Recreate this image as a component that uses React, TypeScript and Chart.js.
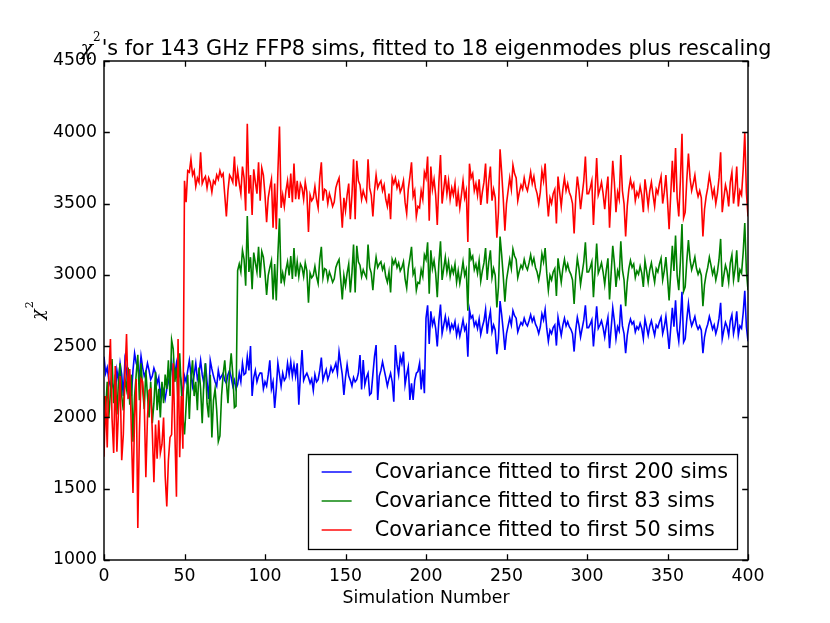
import React, { useEffect, useRef } from "react";
import { Chart, registerables } from "chart.js";

Chart.register(...registerables);

const titleMain = "'s for 143 GHz FFP8 sims, fitted to 18 eigenmodes plus rescaling";
const xAxisLabel = "Simulation Number";
const seriesLabels = [
  "Covariance fitted to first 200 sims",
  "Covariance fitted to first 83 sims",
  "Covariance fitted to first 50 sims",
];
const seriesColors = ["#0000ff", "#008000", "#ff0000"];
const xTicks = [0, 50, 100, 150, 200, 250, 300, 350, 400];
const yTicks = [1000, 1500, 2000, 2500, 3000, 3500, 4000, 4500];

const blueValues = [
  2426, 2310, 2350, 2260, 2220, 2240, 2200, 2150, 2330, 2260,
  2380, 2300, 2150, 2400, 2330, 2170, 2250, 2150, 2330, 2450,
  2380, 2350, 2290, 2430, 2350, 2290, 2320, 2380, 2330, 2265,
  2290, 2345, 2310, 2240, 2280, 2150, 2220, 2190, 2130, 2200,
  2250, 2310, 2390, 2240, 2300, 2380, 2280, 2310, 2250, 2150,
  2290, 2250, 2330, 2400, 2300, 2220, 2300, 2380, 2270, 2310,
  2400, 2300, 2240, 2380, 2250, 2130, 2400, 2340, 2290, 2250,
  2220, 2330, 2270, 2290, 2310, 2260, 2240, 2300, 2330, 2280,
  2220, 2260, 2200, 2230, 2310, 2250, 2380, 2300, 2310, 2426,
  2330, 2500, 2150, 2280, 2330, 2250, 2290, 2312, 2310, 2200,
  2250, 2220, 2300, 2400, 2200, 2250, 2066, 2200, 2380, 2300,
  2220, 2310, 2260, 2280, 2380, 2300, 2390, 2290, 2370, 2290,
  2380, 2090, 2300, 2473, 2260, 2290, 2310, 2280, 2240, 2270,
  2190, 2300, 2250, 2265, 2330, 2420, 2260, 2300, 2335, 2265,
  2300, 2355, 2320, 2345, 2380, 2310, 2461, 2380, 2300, 2158,
  2280, 2370, 2290, 2260, 2220, 2280, 2250, 2265, 2310, 2438,
  2196, 2403, 2230, 2280, 2310, 2158, 2170, 2300, 2426, 2508,
  2123, 2290, 2330, 2390, 2335, 2280, 2220, 2270, 2310, 2250,
  2111, 2508, 2370, 2300, 2426, 2380, 2461, 2230, 2300, 2355,
  2123, 2240, 2123, 2260, 2310, 2322, 2380, 2196, 2335, 2170,
  2696, 2786, 2516, 2744, 2648, 2690, 2624, 2498, 2678, 2792,
  2588, 2648, 2708, 2630, 2684, 2606, 2654, 2624, 2672, 2576,
  2636, 2570, 2624, 2684, 2612, 2642, 2426, 2756, 2696, 2714,
  2642, 2672, 2624, 2690, 2582, 2636, 2678, 2756, 2588, 2684,
  2744, 2600, 2648, 2612, 2444, 2552, 2816, 2720, 2606, 2474,
  2588, 2642, 2696, 2648, 2750, 2714, 2696, 2600, 2636, 2666,
  2648, 2696, 2660, 2642, 2678, 2720, 2672, 2702, 2654, 2630,
  2588, 2636, 2726, 2684, 2756, 2624, 2534, 2612, 2588, 2630,
  2648, 2504, 2702, 2636, 2576, 2648, 2696, 2642, 2672, 2636,
  2618, 2588, 2462, 2612, 2702, 2648, 2564, 2624, 2684, 2786,
  2630, 2630, 2654, 2684, 2498, 2636, 2780, 2624, 2648, 2678,
  2630, 2564, 2642, 2702, 2486, 2624, 2768, 2678, 2552, 2636,
  2606, 2792, 2642, 2588, 2450, 2576, 2648, 2690, 2654, 2672,
  2600, 2636, 2618, 2660, 2624, 2552, 2690, 2636, 2576, 2642,
  2678, 2624, 2576, 2648, 2630, 2672, 2702, 2588, 2636, 2708,
  2600, 2480, 2624, 2768, 2636, 2822, 2612, 2534, 2684, 2882,
  2528, 2552, 2690, 2798, 2696, 2642, 2672, 2708, 2648, 2618,
  2642, 2612, 2450, 2564, 2618, 2654, 2708, 2666, 2618, 2648,
  2588, 2630, 2696, 2804, 2552, 2612, 2666, 2636, 2576, 2678,
  2720, 2588, 2648, 2744, 2576, 2642, 2624, 2732, 2888, 2636,
  2534,
];

const greenValues = [
  2150, 2050, 2250, 2000, 2180, 2410, 2100, 2300, 2020, 2250,
  2380, 2150, 2050, 2270, 2200, 2350, 2090, 2300, 1830, 2150,
  2300, 2440, 2120, 2380, 2200, 2060, 2330, 2150, 2000, 2250,
  1960, 2100, 2320, 2050, 2200, 2000, 2250, 2100, 2300, 2200,
  2400, 2150, 2543, 2480, 2250, 2350, 2100, 2450, 2200, 2000,
  1880, 2080, 2300, 1990, 2280, 2400, 2150, 2250, 2050, 2350,
  2200, 1960, 2250, 2380, 2100, 2000, 2300, 1860, 2120, 2200,
  2050, 1830, 1870, 2150, 2300, 2400, 2250, 2100, 2320, 2450,
  2300, 2070, 2080, 3030, 3076, 3020, 3172, 3108, 2924, 3412,
  3020, 3124, 2900, 3156, 3084, 3020, 3196, 2980, 3164, 3124,
  3012, 2860, 2996, 3052, 3100, 2828, 3076, 2820, 3140, 3396,
  2940, 3012, 2948, 3036, 3092, 2996, 3132, 2972, 3188, 2988,
  3092, 2988, 3076, 3052, 2988, 3084, 3028, 2804, 3012, 2980,
  2996, 3060, 2988, 2940, 3108, 3196, 2980, 3044, 3036, 2964,
  3020, 2988, 2948, 2972, 3052, 3084, 3108, 2972, 2828, 2996,
  2924, 3012, 3076, 2876, 3012, 3212, 2876, 3204, 3092, 3068,
  2988, 3036, 3004, 2980, 3212, 3052, 3012, 2892, 3036, 3124,
  3052, 3076, 3092, 3036, 3068, 2988, 2948, 3020, 2876, 3108,
  3076, 3108, 3052, 3084, 3028, 3052, 3092, 2972, 2908, 3044,
  3116, 3196, 3004, 3036, 2892, 2948, 2940, 3036, 2988, 3140,
  3108, 3228, 2868, 3172, 3044, 3100, 3012, 2844, 3084, 3236,
  2964, 3044, 3124, 3020, 3092, 2988, 3052, 3012, 3076, 2948,
  3028, 2940, 3012, 3092, 2996, 3036, 2748, 3188, 3108, 3132,
  3036, 3076, 3012, 3100, 2956, 3028, 3084, 3188, 2964, 3092,
  3172, 2980, 3044, 2996, 2772, 2916, 3268, 3140, 2988, 2812,
  2964, 3036, 3108, 3044, 3180, 3132, 3108, 2980, 3028, 3068,
  3044, 3108, 3060, 3036, 3084, 3140, 3076, 3116, 3052, 3020,
  2964, 3028, 3148, 3092, 3188, 3012, 2892, 2996, 2964, 3020,
  3044, 2852, 3116, 3028, 2948, 3044, 3108, 3036, 3076, 3028,
  3004, 2964, 2796, 2996, 3116, 3044, 2932, 3012, 3092, 3228,
  3020, 3020, 3052, 3092, 2844, 3028, 3220, 3012, 3044, 3084,
  3020, 2932, 3036, 3116, 2828, 3012, 3204, 3084, 2916, 3028,
  2988, 3236, 3036, 2964, 2780, 2948, 3044, 3100, 3052, 3076,
  2980, 3028, 3004, 3060, 3012, 2916, 3100, 3028, 2948, 3036,
  3084, 3012, 2948, 3044, 3020, 3076, 3116, 2964, 3028, 3124,
  2980, 2820, 3012, 3204, 3028, 3276, 2996, 2892, 3092, 3356,
  2884, 2916, 3100, 3244, 3108, 3036, 3076, 3124, 3044, 3004,
  3036, 2996, 2780, 2932, 3004, 3052, 3124, 3068, 3004, 3044,
  2964, 3020, 3108, 3252, 2916, 2996, 3068, 3028, 2948, 3084,
  3140, 2964, 3044, 3172, 2948, 3036, 3012, 3156, 3364, 3028,
  2892,
];

const redValues = [
  1725, 2150, 1790, 2300, 2550, 1990, 1750, 2360, 1760, 2050,
  2290, 1700, 1880, 2290, 2585, 2130, 2340, 1900, 1470, 2000,
  2270, 1225, 1900, 2270, 2250, 2100, 1580, 2000, 2190, 2200,
  1900, 1545, 1950, 1710, 1980, 1750, 1810, 2000, 1590, 1375,
  1700, 1860, 1880, 2380, 1900, 1444, 2550, 1720, 2150, 1780,
  3660, 3510, 3730, 3720, 3810, 3700, 3730, 3620, 3680, 3650,
  3860, 3640, 3670, 3690, 3610, 3680, 3650, 3580, 3660, 3640,
  3700, 3670, 3730, 3690, 3710, 3560, 3410, 3590, 3700, 3680,
  3650, 3830, 3620, 3730, 3640, 3570, 3760, 3680, 3450, 4060,
  3570, 3700, 3420, 3740, 3650, 3570, 3790, 3520, 3750, 3700,
  3560, 3370, 3540, 3610, 3670, 3330, 3640, 3320, 3720, 4040,
  3470, 3560, 3480, 3590, 3660, 3540, 3710, 3510, 3780, 3530,
  3660, 3530, 3640, 3610, 3530, 3650, 3580, 3300, 3560, 3520,
  3540, 3620, 3530, 3470, 3680, 3790, 3520, 3600, 3590, 3500,
  3570, 3530, 3480, 3510, 3610, 3650, 3680, 3510, 3330, 3540,
  3450, 3560, 3640, 3390, 3560, 3810, 3390, 3800, 3660, 3630,
  3530, 3590, 3550, 3520, 3810, 3610, 3560, 3410, 3590, 3700,
  3610, 3640, 3660, 3590, 3630, 3530, 3480, 3570, 3390, 3680,
  3640, 3680, 3610, 3650, 3580, 3610, 3660, 3510, 3430, 3600,
  3690, 3790, 3550, 3590, 3410, 3480, 3470, 3590, 3530, 3720,
  3680, 3830, 3380, 3760, 3600, 3670, 3560, 3350, 3650, 3840,
  3500, 3600, 3700, 3570, 3660, 3530, 3610, 3560, 3640, 3480,
  3580, 3470, 3560, 3660, 3540, 3590, 3230, 3780, 3680, 3710,
  3590, 3640, 3560, 3670, 3490, 3580, 3650, 3780, 3500, 3660,
  3760, 3520, 3600, 3540, 3260, 3440, 3880, 3720, 3530, 3310,
  3500, 3590, 3680, 3600, 3770, 3710, 3680, 3520, 3580, 3630,
  3600, 3680, 3620, 3590, 3650, 3720, 3640, 3690, 3610, 3570,
  3500, 3580, 3730, 3660, 3780, 3560, 3410, 3540, 3500, 3570,
  3600, 3360, 3690, 3580, 3480, 3600, 3680, 3590, 3640, 3580,
  3550, 3500, 3290, 3540, 3690, 3600, 3460, 3560, 3660, 3830,
  3570, 3570, 3610, 3660, 3350, 3580, 3820, 3560, 3600, 3650,
  3570, 3460, 3590, 3690, 3330, 3560, 3800, 3650, 3440, 3580,
  3530, 3840, 3590, 3500, 3270, 3480, 3600, 3670, 3610, 3640,
  3520, 3580, 3550, 3620, 3560, 3440, 3670, 3580, 3480, 3590,
  3650, 3560, 3480, 3600, 3570, 3640, 3690, 3500, 3580, 3700,
  3520, 3320, 3560, 3800, 3580, 3890, 3540, 3410, 3660, 3990,
  3400, 3440, 3670, 3850, 3680, 3590, 3640, 3700, 3600, 3550,
  3590, 3540, 3270, 3460, 3550, 3610, 3700, 3630, 3550, 3600,
  3500, 3570, 3680, 3860, 3440, 3540, 3630, 3580, 3480, 3650,
  3720, 3500, 3600, 3760, 3480, 3590, 3560, 3740, 4000, 3580,
  3410,
];

const seriesValues = [blueValues, greenValues, redValues];

const SANS = '"DejaVu Sans", sans-serif';
const SERIF = '"DejaVu Serif", serif';
const SMALL = 17.3;
const LARGE = 20.75;
const LW = 1.6;

const decorPlugin = {
  id: "decor",
  afterDatasetsDraw(chart: any) {
    const ctx: CanvasRenderingContext2D = chart.ctx;
    const { left, right, top, bottom } = chart.chartArea;
    const xs = chart.scales.x;
    const ys = chart.scales.y;
    ctx.save();
    ctx.strokeStyle = "#000";
    ctx.lineWidth = 1.3;
    const tl = 5.8;
    ctx.beginPath();
    for (const v of xTicks) {
      const p = Math.round(xs.getPixelForValue(v)) + 0.5;
      ctx.moveTo(p, bottom);
      ctx.lineTo(p, bottom - tl);
      ctx.moveTo(p, top);
      ctx.lineTo(p, top + tl);
    }
    for (const v of yTicks) {
      const p = Math.round(ys.getPixelForValue(v)) + 0.5;
      ctx.moveTo(left, p);
      ctx.lineTo(left + tl, p);
      ctx.moveTo(right, p);
      ctx.lineTo(right - tl, p);
    }
    ctx.stroke();
    ctx.lineWidth = 1.44;
    ctx.strokeRect(left, top, right - left, bottom - top);
    ctx.restore();
  },
  afterDraw(chart: any) {
    const ctx: CanvasRenderingContext2D = chart.ctx;
    const { left, right, top, bottom } = chart.chartArea;
    const cx = (left + right) / 2;
    ctx.save();
    ctx.fillStyle = "#000";
    ctx.textBaseline = "alphabetic";
    ctx.textAlign = "left";

    // Title with chi^2
    const supSize = 12;
    ctx.font = `italic ${LARGE}px ${SERIF}`;
    const wChi = ctx.measureText("χ").width;
    ctx.font = `${supSize}px ${SERIF}`;
    const wTwo = ctx.measureText("2").width;
    ctx.font = `${LARGE}px ${SANS}`;
    const wRest = ctx.measureText(titleMain).width;
    const total = wChi + wTwo + 1 + wRest;
    const x0 = cx - total / 2;
    const base = 55;
    ctx.font = `italic ${LARGE}px ${SERIF}`;
    ctx.fillText("χ", x0, base);
    ctx.font = `${supSize}px ${SERIF}`;
    ctx.fillText("2", x0 + wChi, base - 14);
    ctx.font = `${LARGE}px ${SANS}`;
    ctx.fillText(titleMain, x0 + wChi + wTwo + 1, base);

    // x label
    ctx.font = `${SMALL}px ${SANS}`;
    ctx.textAlign = "center";
    ctx.fillText(xAxisLabel, cx, 603);

    // y label chi^2 rotated
    ctx.save();
    ctx.translate(43, (top + bottom) / 2);
    ctx.rotate(-Math.PI / 2);
    ctx.textAlign = "left";
    ctx.font = `italic ${SMALL}px ${SERIF}`;
    const wc = ctx.measureText("χ").width;
    ctx.font = `11px ${SERIF}`;
    const w2 = ctx.measureText("2").width;
    const tw = wc + w2 + 1;
    ctx.font = `italic ${SMALL}px ${SERIF}`;
    ctx.fillText("χ", -tw / 2, 0);
    ctx.font = `11px ${SERIF}`;
    ctx.fillText("2", -tw / 2 + wc + 1, -10);
    ctx.restore();

    // Legend
    ctx.font = `${LARGE}px ${SANS}`;
    let maxW = 0;
    for (const s of seriesLabels) maxW = Math.max(maxW, ctx.measureText(s).width);
    const boxRight = right - 11;
    const boxBottom = bottom - 11;
    const boxW = 14 + 30 + 23 + maxW + 9;
    const boxH = 95;
    const boxLeft = boxRight - boxW;
    const boxTop = boxBottom - boxH;
    ctx.fillStyle = "#fff";
    ctx.fillRect(boxLeft, boxTop, boxW, boxH);
    ctx.strokeStyle = "#000";
    ctx.lineWidth = 1.3;
    ctx.strokeRect(Math.round(boxLeft) + 0.5, Math.round(boxTop) + 0.5, Math.round(boxW), Math.round(boxH));
    ctx.textAlign = "left";
    ctx.textBaseline = "middle";
    seriesLabels.forEach((s, i) => {
      const y = boxTop + 18 + i * 29;
      ctx.strokeStyle = seriesColors[i];
      ctx.lineWidth = 1.44;
      ctx.beginPath();
      ctx.moveTo(boxLeft + 14, y);
      ctx.lineTo(boxLeft + 44, y);
      ctx.stroke();
      ctx.fillStyle = "#000";
      ctx.fillText(s, boxLeft + 67, y + 1);
    });
    ctx.restore();
  },
};

export default function App() {
  const ref = useRef<HTMLCanvasElement | null>(null);
  useEffect(() => {
    if (!ref.current) return;
    const datasets = seriesValues.map((vals, i) => ({
      label: seriesLabels[i],
      data: vals.map((y, x) => ({ x, y })),
      borderColor: seriesColors[i],
      backgroundColor: seriesColors[i],
      borderWidth: LW,
      pointRadius: 0,
      tension: 0,
      fill: false,
      order: 2 - i,
    }));
    const chart = new Chart(ref.current, {
      type: "line",
      data: { datasets },
      options: {
        animation: false,
        responsive: false,
        maintainAspectRatio: false,
        layout: { padding: { left: 0, top: 61, right: 82, bottom: 0 } },
        plugins: {
          legend: { display: false },
          title: { display: false },
          tooltip: { enabled: false },
        },
        scales: {
          x: {
            type: "linear",
            min: 0,
            max: 400,
            afterFit: (s: any) => {
              s.height = 63;
            },
            afterBuildTicks: (s: any) => {
              s.ticks = xTicks.map((v) => ({ value: v }));
            },
            grid: { display: false, drawTicks: false },
            border: { display: false },
            ticks: {
              padding: 6,
              maxRotation: 0,
              autoSkip: false,
              color: "#000",
              font: { family: SANS, size: SMALL },
              callback: (v: any) => String(v),
            },
          },
          y: {
            type: "linear",
            min: 1000,
            max: 4500,
            afterFit: (s: any) => {
              s.width = 104;
            },
            afterBuildTicks: (s: any) => {
              s.ticks = yTicks.map((v) => ({ value: v }));
            },
            grid: { display: false, drawTicks: false },
            border: { display: false },
            ticks: {
              padding: 7,
              autoSkip: false,
              color: "#000",
              font: { family: SANS, size: SMALL },
              callback: (v: any) => String(v),
            },
          },
        },
      },
      plugins: [decorPlugin],
    });
    return () => chart.destroy();
  }, []);
  return (
    <div style={{ position: "absolute", left: 0, top: 0, width: 830, height: 623, background: "#fff" }}>
      <canvas ref={ref} width={830} height={623} style={{ display: "block" }} />
    </div>
  );
}
